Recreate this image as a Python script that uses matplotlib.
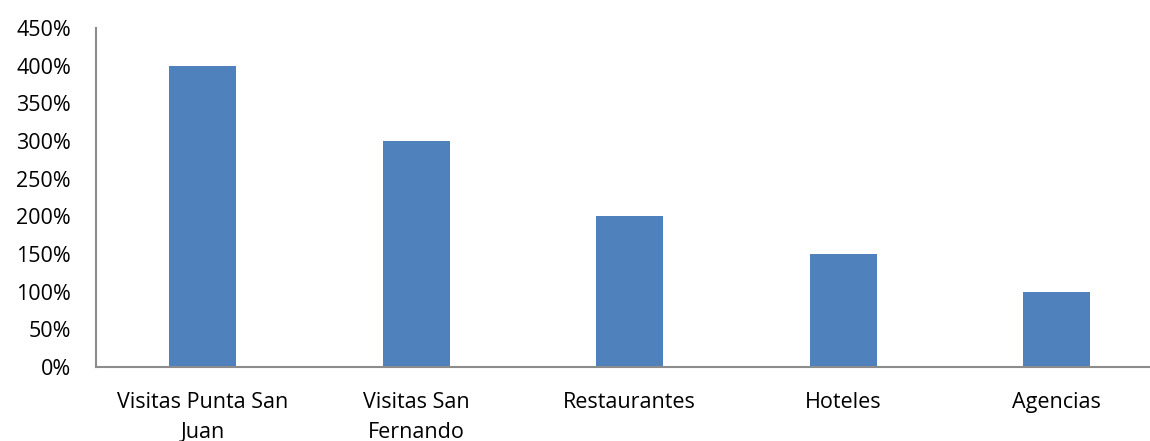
import matplotlib.pyplot as plt
from matplotlib.ticker import FuncFormatter

categories = ["Visitas Punta San\nJuan", "Visitas San\nFernando", "Restaurantes",
              "Hoteles", "Agencias"]
values = [400, 300, 200, 150, 100]
y_ticks = [0, 50, 100, 150, 200, 250, 300, 350, 400, 450]

plt.rcParams['font.family'] = ['Open Sans', 'DejaVu Sans']

fig = plt.figure(figsize=(11.5, 4.41), dpi=100)
# the category axis runs a little past the right edge of the picture
ax = fig.add_axes([0.0835, 0.168, 0.928, 0.7685])

x = range(len(categories))
ax.bar(x, values, width=0.314, color="#4F81BD")

ax.set_xlim(-0.5, len(categories) - 0.5)
ax.set_ylim(0, 450)
ax.set_yticks(y_ticks)
ax.yaxis.set_major_formatter(FuncFormatter(lambda v, p: f"{int(v)}%"))
ax.set_xticks(list(x))
ax.set_xticklabels(categories, linespacing=1.55)

for side in ("top", "right"):
    ax.spines[side].set_visible(False)
for side in ("left", "bottom"):
    ax.spines[side].set_color("#8C8C8C")
    ax.spines[side].set_linewidth(1.5)

ax.tick_params(axis="both", length=0, labelsize=15.5, colors="black")
ax.tick_params(axis="x", pad=18)
ax.tick_params(axis="y", pad=18)

fig.savefig("out.png", dpi=100)
